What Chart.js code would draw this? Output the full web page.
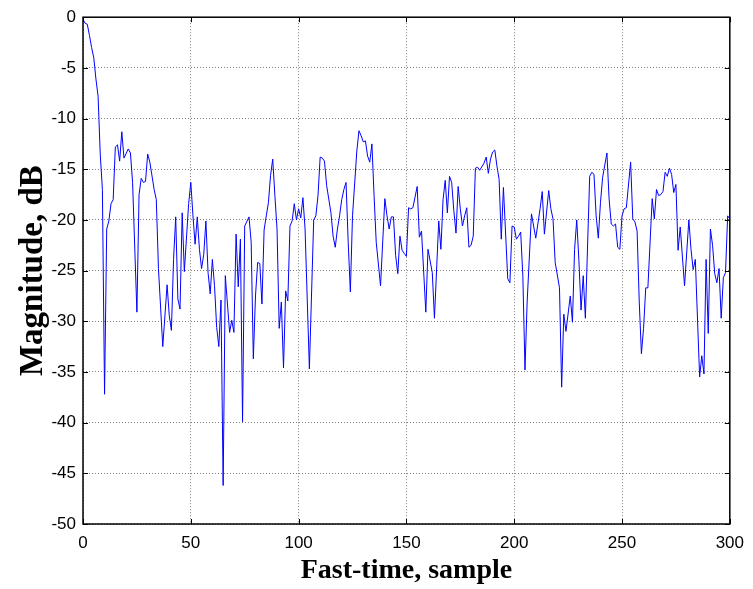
<!DOCTYPE html>
<html>
<head>
<meta charset="utf-8">
<script src="https://cdn.jsdelivr.net/npm/chart.js@4.4.0/dist/chart.umd.min.js"></script>
<style>
    body { margin: 0; background: #fff; }
    canvas { display: block; }
</style>
</head>
<body>
<canvas id="magChart" width="753" height="589"></canvas>
<script>
// data (sample index -> dB)
const samples = [
    0, 1, 2, 3, 4, 5, 6, 7, 8, 9, 10, 11, 12, 13, 14, 15, 16, 17, 18, 19, 21, 22, 23, 25, 26, 27, 28, 29, 30, 31,
    33, 34, 35, 37, 39, 40, 41, 42, 43, 44, 45, 46, 47, 49, 50, 51, 52, 53, 54, 55, 56, 57, 58, 59, 60, 61, 62, 63, 64, 65,
    66, 68, 69, 70, 71, 72, 73, 74, 75, 77, 78, 79, 80, 81, 82, 83, 84, 85, 86, 87, 88, 89, 90, 91, 92, 93, 94, 95, 96, 97,
    98, 99, 100, 101, 102, 103, 105, 107, 108, 109, 110, 111, 112, 113, 115, 116, 117, 118, 119, 120, 121, 122, 123, 124, 125, 127, 128, 129, 130, 131,
    132, 133, 134, 135, 136, 138, 140, 141, 142, 143, 144, 145, 146, 147, 148, 149, 150, 151, 152, 153, 155, 156, 157, 159, 160, 162, 163, 165, 166, 167,
    168, 169, 170, 171, 172, 173, 174, 175, 176, 177, 178, 179, 180, 181, 182, 183, 184, 186, 187, 188, 189, 190, 191, 192, 193, 194, 195, 197, 198, 199,
    200, 201, 202, 203, 204, 205, 206, 208, 209, 210, 212, 213, 214, 216, 217, 218, 219, 221, 222, 223, 224, 226, 227, 228, 229, 230, 231, 232, 233, 235,
    236, 237, 238, 239, 240, 241, 243, 244, 245, 246, 247, 248, 249, 250, 251, 252, 254, 255, 256, 257, 258, 259, 260, 261, 262, 264, 265, 266, 267, 268,
    269, 270, 271, 272, 273, 274, 275, 276, 277, 279, 281, 282, 283, 284, 286, 287, 288, 289, 290, 291, 292, 293, 294, 295, 296, 297, 298, 299, 300
];
const magnitude = [
    -0.2, -0.6, -0.7, -1.8, -3.0, -4.0, -6.1, -7.8, -13.5, -17.0, -37.2, -20.9, -20.1, -18.4, -18.0, -12.8, -12.6, -14.2, -11.3, -13.9, -13.0, -13.4, -16.3, -29.1, -17.5, -15.9, -16.3, -16.2, -13.5, -14.3,
    -17.0, -18.0, -24.8, -32.5, -26.4, -29.4, -30.9, -23.9, -19.7, -27.8, -28.8, -19.3, -25.1, -18.4, -16.3, -19.6, -22.4, -19.7, -22.9, -24.8, -23.4, -20.1, -25.2, -27.3, -23.9, -26.5, -30.6, -32.5, -27.9, -46.2,
    -25.5, -31.1, -29.9, -31.1, -21.4, -26.6, -21.9, -39.9, -20.6, -19.7, -22.2, -33.7, -27.5, -24.2, -24.3, -28.3, -21.0, -19.6, -18.3, -15.6, -14.0, -17.6, -20.9, -30.7, -28.1, -34.6, -27.0, -28.0, -20.6, -20.1,
    -18.4, -20.0, -18.9, -19.8, -17.8, -20.9, -34.7, -20.0, -19.6, -17.6, -13.8, -13.9, -14.2, -16.6, -19.3, -21.6, -22.7, -20.9, -19.6, -18.0, -17.0, -16.3, -22.2, -27.1, -19.6, -13.2, -11.2, -11.7, -12.3, -12.2,
    -13.7, -14.3, -12.5, -17.6, -22.2, -26.5, -17.9, -19.6, -20.9, -19.7, -19.7, -23.5, -25.3, -21.6, -23.0, -23.3, -23.6, -18.8, -18.9, -18.8, -16.7, -21.7, -21.1, -29.1, -22.9, -25.2, -29.7, -20.1, -22.9, -18.0,
    -16.1, -19.3, -15.7, -16.3, -19.1, -21.3, -16.7, -18.9, -20.6, -19.6, -18.8, -22.7, -22.5, -21.6, -14.9, -14.8, -15.1, -14.4, -13.8, -15.4, -14.0, -13.3, -13.1, -14.7, -16.0, -21.9, -16.8, -25.8, -26.2, -20.6,
    -20.7, -21.9, -21.6, -21.2, -25.5, -34.8, -28.1, -19.4, -20.6, -21.8, -18.9, -17.2, -21.4, -17.1, -18.9, -19.9, -24.2, -26.7, -36.5, -29.3, -31.0, -27.5, -30.1, -22.9, -20.0, -24.0, -28.9, -25.5, -29.7, -15.7,
    -15.3, -15.5, -19.6, -21.8, -18.3, -15.8, -13.4, -17.9, -20.4, -20.6, -20.4, -22.7, -22.9, -19.6, -18.9, -18.8, -14.3, -19.9, -20.2, -21.1, -28.1, -33.2, -30.7, -26.7, -26.7, -17.9, -19.9, -17.0, -17.6, -17.5,
    -17.2, -15.3, -15.7, -14.9, -15.5, -17.3, -16.5, -23.0, -20.7, -26.5, -20.0, -22.9, -24.9, -23.9, -35.5, -33.4, -35.2, -23.9, -31.2, -20.9, -22.5, -25.3, -26.2, -24.8, -29.7, -25.7, -25.2, -19.6, -19.9
];

// axis ticks
const xTicks = [0, 50, 100, 150, 200, 250, 300];
const yTicks = [0, -5, -10, -15, -20, -25, -30, -35, -40, -45, -50];

const points = samples.map((s, i) => ({x: s, y: magnitude[i]}));

// matlab style box with inward ticks on all four sides
const axesBox = {
    id: 'axesBox',
    afterDraw(chart) {
        const {ctx, chartArea: a, scales: {x, y}} = chart;
        ctx.save();
        ctx.strokeStyle = '#000';
        ctx.lineWidth = 1;
        ctx.beginPath();
        xTicks.forEach((v) => {
            const px = Math.round(x.getPixelForValue(v)) + 0.5;
            ctx.moveTo(px, a.bottom); ctx.lineTo(px, a.bottom - 5);
            ctx.moveTo(px, a.top); ctx.lineTo(px, a.top + 5);
        });
        yTicks.forEach((v) => {
            const py = Math.round(y.getPixelForValue(v)) + 0.5;
            ctx.moveTo(a.left, py); ctx.lineTo(a.left + 5, py);
            ctx.moveTo(a.right, py); ctx.lineTo(a.right - 5, py);
        });
        ctx.stroke();
        ctx.lineWidth = 1.5;
        ctx.strokeRect(a.left, a.top, a.right - a.left, a.bottom - a.top);
        ctx.restore();
    }
};

const gridColor = 'rgba(0,0,0,0.5)';

new Chart(document.getElementById('magChart').getContext('2d'), {
    type: 'line',
    data: {
        datasets: [{
            data: points,
            borderColor: '#0000ff',
            borderWidth: 1,
            pointRadius: 0,
            tension: 0,
            fill: false
        }]
    },
    options: {
        responsive: false,
        animation: false,
        devicePixelRatio: 1,
        layout: {padding: {top: 13, right: 19, left: 0, bottom: 0}},
        plugins: {legend: {display: false}, tooltip: {enabled: false}},
        scales: {
            x: {
                type: 'linear',
                min: 0,
                max: 300,
                afterBuildTicks: (scale) => { scale.ticks = xTicks.map(v => ({value: v})); },
                afterFit: (scale) => { scale.height = 65; },
                grid: {color: gridColor, lineWidth: 1, drawTicks: false},
                border: {display: false, dash: [1, 2]},
                ticks: {
                    padding: 9,
                    color: '#000',
                    font: {family: 'Liberation Sans', size: 17}
                },
                title: {
                    display: true,
                    text: 'Fast-time, sample',
                    color: '#000',
                    padding: {top: 0, bottom: 1},
                    font: {family: 'Liberation Serif', size: 28, weight: 'bold'}
                }
            },
            y: {
                type: 'linear',
                min: -50,
                max: 0,
                afterBuildTicks: (scale) => { scale.ticks = yTicks.map(v => ({value: v})); },
                afterFit: (scale) => { scale.width = 83; },
                grid: {color: gridColor, lineWidth: 1, drawTicks: false},
                border: {display: false, dash: [1, 2]},
                ticks: {
                    padding: 7,
                    color: '#000',
                    font: {family: 'Liberation Sans', size: 17}
                },
                title: {
                    display: true,
                    text: 'Magnitude, dB',
                    color: '#000',
                    padding: {top: 14, bottom: 0},
                    font: {family: 'Liberation Serif', size: 33, weight: 'bold'}
                }
            }
        }
    },
    plugins: [axesBox]
});
</script>
</body>
</html>
